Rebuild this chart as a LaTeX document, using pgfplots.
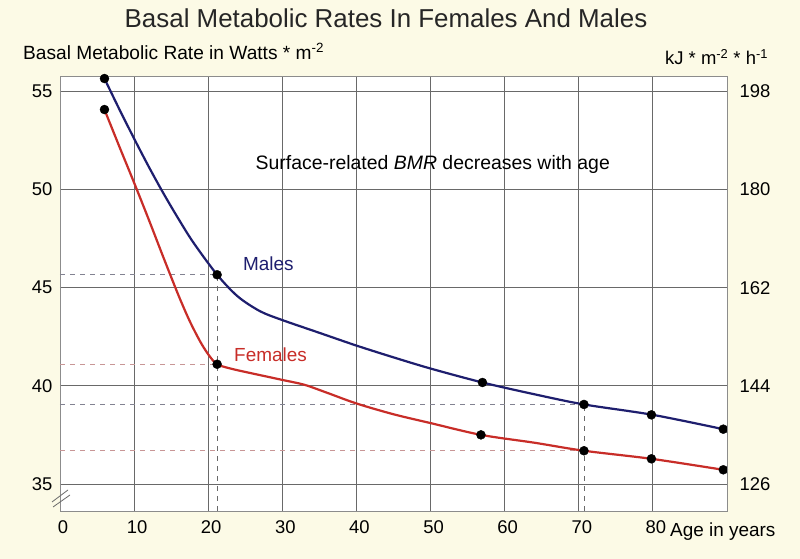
\documentclass[border=0pt]{standalone}
\usepackage{pgfplots}
\pgfplotsset{compat=1.18}
\usepackage{fontspec}
\setmainfont{Liberation Sans}
\definecolor{bgc}{RGB}{252,250,230}
\definecolor{maleblue}{RGB}{30,30,110}
\definecolor{femred}{RGB}{200,45,40}
\definecolor{gridc}{RGB}{105,105,105}
\definecolor{framec}{RGB}{140,140,140}
\definecolor{maledash}{RGB}{130,130,145}
\definecolor{femdash}{RGB}{200,150,150}
\begin{document}
\begin{tikzpicture}[x=1bp,y=1bp]
\path[use as bounding box, fill=bgc] (-60,-48) rectangle (740,511);
\begin{axis}[
  at={(0,0)}, anchor=south west,
  scale only axis, width=667bp, height=435bp,
  xmin=0, xmax=90, ymin=33.62, ymax=55.79,
  xtick={0,10,...,80}, ytick={35,40,...,55},
  grid=major, major grid style={gridc, line width=0.8bp},
  axis line style={framec, line width=0.8bp},
  major tick length=0pt,
  axis background/.style={fill=white},
  ticklabel style={font=\fontsize{18.5}{20}\selectfont},
  xticklabel style={xshift=3bp, yshift=-6bp},
  yticklabel style={xshift=-4bp},
  /pgf/number format/assume math mode=true,
  clip=false,
]
% reference dashed lines
\addplot[maledash, line width=0.8bp, dash pattern=on 5bp off 5bp] coordinates {(0,45.66) (21.2,45.66)};
\addplot[femdash, line width=0.8bp, dash pattern=on 5bp off 5bp] coordinates {(0,41.1) (21.2,41.1)};
\addplot[maledash, line width=0.8bp, dash pattern=on 5bp off 5bp] coordinates {(0,39.05) (70.7,39.05)};
\addplot[femdash, line width=0.8bp, dash pattern=on 5bp off 5bp] coordinates {(0,36.69) (70.7,36.69)};
\addplot[gridc, line width=0.8bp, dash pattern=on 5bp off 5bp] coordinates {(21.2,33.62) (21.2,45.66)};
\addplot[gridc, line width=0.8bp, dash pattern=on 5bp off 5bp] coordinates {(70.7,33.62) (70.7,39.05)};
% curves
\addplot[maleblue, line width=2.2bp, smooth] coordinates {
(6,55.66) (8,54.1) (10,52.6) (12,51.15) (14,49.78) (16,48.5) (18,47.3) (21.2,45.66)
(24,44.55) (27,43.8) (30,43.35) (35,42.7) (40,42.05) (45,41.45) (50,40.88) (57,40.17)
(64,39.57) (70.7,39.05) (80,38.52) (89.5,37.79)};
\addplot[femred, line width=2.2bp, smooth] coordinates {
(6,54.08) (8,52.2) (10,50.35) (12,48.45) (14,46.5) (16,44.6) (17.5,43.3) (19,42.2) (20.2,41.5) (21.2,41.1)
(23,40.88) (25.7,40.65) (30,40.3) (33,40.05) (36,39.65) (40,39.1) (45,38.55) (50,38.1) (56.8,37.5)
(64,37.1) (70.7,36.69) (79.8,36.28) (89.5,35.72)};
% markers
\addplot[only marks, mark=*, mark size=4.5bp, black] coordinates {
(6,55.66) (21.2,45.66) (57,40.17) (70.7,39.05) (79.8,38.52) (89.5,37.79)};
\addplot[only marks, mark=*, mark size=4.5bp, black] coordinates {
(6,54.08) (21.2,41.1) (56.8,37.5) (70.7,36.69) (79.8,36.28) (89.5,35.72)};
% texts
\node[anchor=base, inner sep=0pt, font=\fontsize{26}{28}\selectfont, text=black!85] at (rel axis cs:0.4888,1) [yshift=48bp] {Basal Metabolic Rates In Females And Males};
\node[anchor=base west, inner sep=0pt, font=\fontsize{19.2}{20}\selectfont] at (rel axis cs:0,1) [xshift=-37bp, yshift=16bp] {Basal Metabolic Rate in Watts * m\textsuperscript{-2}};
\node[anchor=base west, inner sep=0pt, font=\fontsize{18.5}{20}\selectfont] at (rel axis cs:1,1) [xshift=-62bp, yshift=11bp] {kJ * m\textsuperscript{-2} * h\textsuperscript{-1}};
\node[anchor=base west, inner sep=0pt, font=\fontsize{19}{20}\selectfont] at (rel axis cs:0.9145,0) [yshift=-26bp] {Age in years};
\node[font=\fontsize{19.5}{20}\selectfont] at (axis cs:50.3,51.3) {Surface-related \textit{BMR} decreases with age};
\node[font=\fontsize{19}{20}\selectfont, text=maleblue] at (axis cs:28.1,46.2) {Males};
\node[font=\fontsize{19}{20}\selectfont, text=femred] at (axis cs:28.4,41.6) {Females};
\end{axis}
\begin{axis}[
  at={(0,0)}, anchor=south west,
  scale only axis, width=667bp, height=435bp,
  xmin=0, xmax=90, ymin=121.03, ymax=200.84,
  axis y line*=right, axis x line=none,
  ytick={126,144,...,198},
  axis line style={framec, line width=0.8bp},
  major tick length=0pt,
  ticklabel style={font=\fontsize{18.5}{20}\selectfont},
  yticklabel style={xshift=9bp},
  /pgf/number format/assume math mode=true,
]
\addplot[draw=none] coordinates {(0,130)};
\end{axis}
\draw[gridc, line width=0.8bp] (-8,9) -- (8,21);
\draw[gridc, line width=0.8bp] (-7,4) -- (10,16);
\end{tikzpicture}
\end{document}
